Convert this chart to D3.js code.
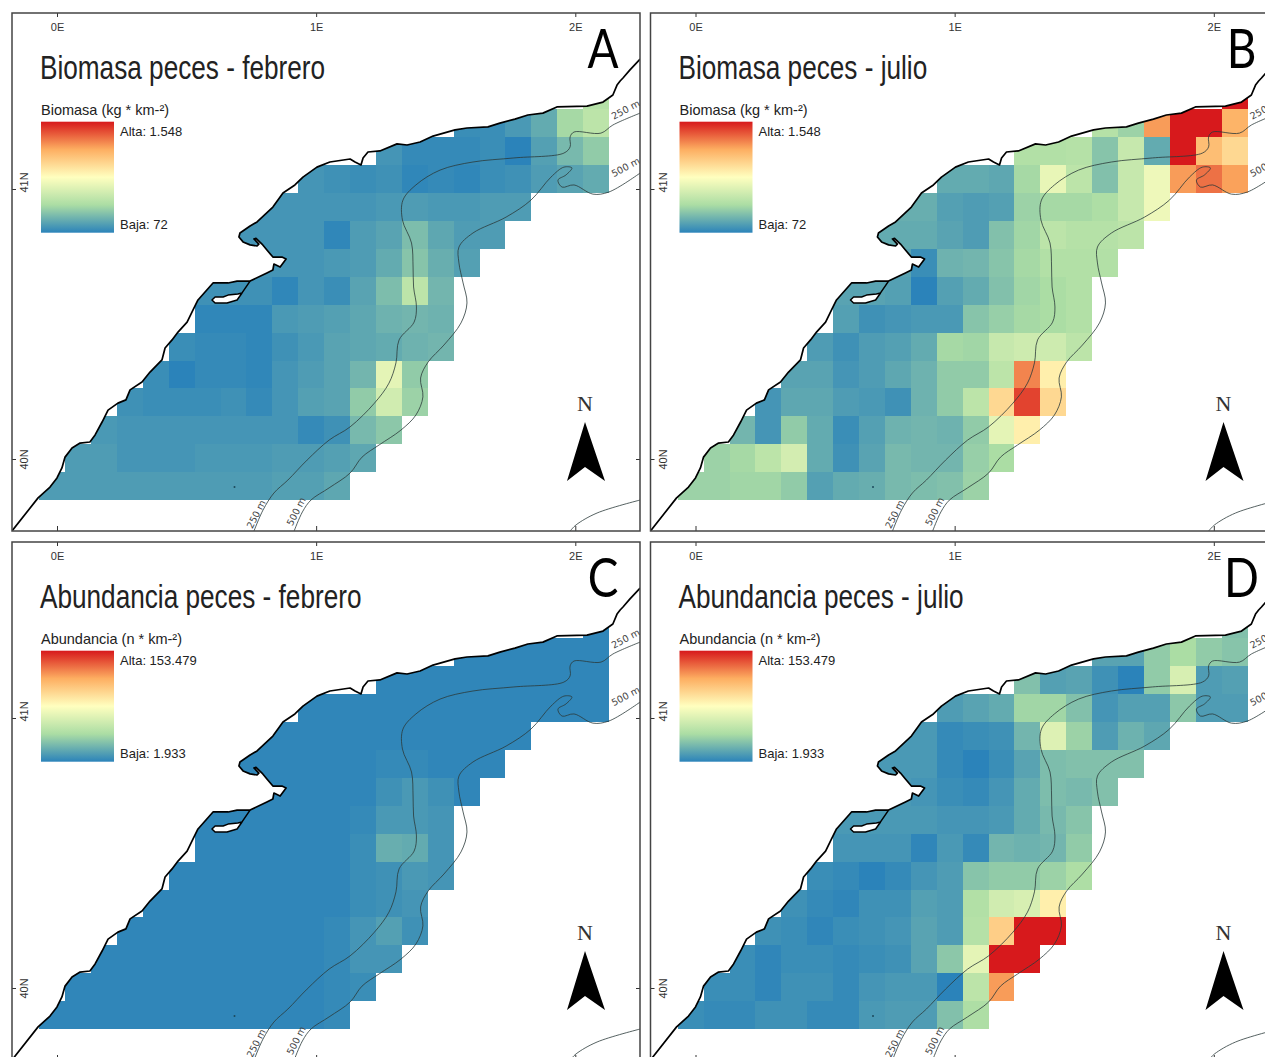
<!DOCTYPE html>
<html>
<head>
<meta charset="utf-8">
<script src="https://cdn.jsdelivr.net/npm/d3@7"></script>
<style>
    body { margin: 0; background: #fff; }
    svg { display: block; }
</style>
</head>
<body>
<div id="map"></div>
<script>
// Spectral ramp of the legend, low to high
var rampColors = ["#2b83ba", "#abdda4", "#ffffbf", "#fdae61", "#d7191c"];

// First grid column of each row, from north to south
var rowFirstCol = [21, 16, 13, 10, 8, 7, 8, 6, 6, 5, 4, 3, 2, 1, 0];

// Biomass per cell (kg/km2), february
var biomassFeb = [
    [485],
    [116, 116, 161, 234, 426, 515],
    [146, 101, 101, 101, 116, 72, 190, 293, 367],
    [146, 131, 116, 131, 87, 101, 87, 116, 131, 175, 205, 234],
    [146, 146, 146, 146, 146, 161, 175, 161, 161, 175, 175],
    [146, 146, 146, 146, 87, 175, 205, 308, 220, 175, 175],
    [146, 146, 146, 161, 175, 234, 338, 249, 190],
    [131, 131, 131, 87, 146, 116, 205, 308, 515, 279],
    [87, 87, 87, 161, 175, 190, 220, 264, 279, 264],
    [116, 101, 101, 87, 131, 161, 205, 220, 234, 264, 279],
    [116, 72, 101, 101, 87, 146, 175, 205, 279, 692, 367],
    [131, 116, 116, 116, 131, 101, 146, 190, 205, 367, 603, 397],
    [161, 146, 146, 146, 146, 146, 146, 146, 101, 131, 293, 352],
    [175, 175, 146, 146, 146, 161, 161, 161, 175, 175, 190, 220],
    [175, 175, 175, 175, 175, 175, 175, 175, 175, 190, 190, 220]
];

// Biomass per cell (kg/km2), july
var biomassJul = [
    [1548],
    [485, 397, 1223, 1548, 1548, 1150],
    [470, 470, 485, 338, 559, 234, 1548, 1105, 987],
    [234, 234, 220, 426, 707, 515, 323, 559, 736, 1223, 1330, 1209],
    [249, 249, 190, 175, 190, 397, 426, 426, 456, 559, 736],
    [234, 234, 234, 205, 175, 323, 411, 515, 485, 485, 515],
    [205, 116, 264, 279, 338, 426, 470, 470, 470],
    [205, 205, 190, 72, 190, 234, 323, 411, 441, 470],
    [190, 131, 146, 161, 161, 338, 382, 426, 441, 470],
    [175, 131, 175, 190, 234, 426, 411, 559, 589, 589, 515],
    [205, 205, 146, 175, 220, 264, 367, 367, 515, 1282, 884],
    [146, 220, 220, 175, 161, 131, 264, 367, 515, 987, 1445, 987],
    [279, 146, 367, 234, 116, 190, 264, 279, 264, 367, 692, 884],
    [397, 426, 515, 618, 234, 131, 205, 293, 279, 279, 382, 441],
    [397, 397, 411, 411, 367, 190, 234, 249, 293, 308, 323, 397]
];

// Abundance per cell (n/km2), february
var abundanceFeb = [
    [3400],
    [3400, 3400, 3400, 3400, 3400, 3400],
    [3400, 3400, 3400, 3400, 3400, 3400, 3400, 3400, 3400],
    [3400, 3400, 3400, 3400, 3400, 3400, 3400, 3400, 3400, 3400, 3400, 3400],
    [3400, 3400, 3400, 3400, 3400, 3400, 3400, 3400, 3400, 3400, 3400],
    [3400, 3400, 3400, 3400, 3400, 3400, 5000, 5000, 3400, 3400, 3400],
    [3400, 3400, 3400, 3400, 3400, 8000, 11000, 8000, 3400],
    [3400, 3400, 3400, 3400, 3400, 3400, 5000, 11000, 11000, 9500],
    [3400, 3400, 3400, 3400, 3400, 3400, 6500, 20100, 18600, 9500],
    [3400, 3400, 3400, 3400, 3400, 3400, 3400, 6500, 8000, 11000, 9500],
    [3400, 3400, 3400, 3400, 3400, 3400, 3400, 3400, 6500, 8000, 9500],
    [3400, 3400, 3400, 3400, 3400, 3400, 3400, 3400, 5000, 9500, 14100, 8000],
    [3400, 3400, 3400, 3400, 3400, 3400, 3400, 3400, 3400, 5000, 9500, 9500],
    [3400, 3400, 3400, 3400, 3400, 3400, 3400, 3400, 3400, 3400, 5000, 6500],
    [3400, 3400, 3400, 3400, 3400, 3400, 3400, 3400, 3400, 3400, 3400, 5000]
];

// Abundance per cell (n/km2), july
var abundanceJul = [
    [27700],
    [15600, 15600, 32200, 39800, 32200, 29200],
    [27700, 14100, 15600, 8000, 1900, 32200, 59500, 12500, 14100],
    [12500, 15600, 18600, 36800, 36800, 27700, 9500, 14100, 14100, 30700, 12500, 12500],
    [11000, 11000, 5000, 6500, 8000, 23100, 62500, 35300, 12500, 21600, 17100],
    [11000, 11000, 11000, 5000, 1900, 6500, 15600, 26200, 27700, 27700, 27700],
    [11000, 9500, 6500, 5000, 9500, 18600, 26200, 24700, 27700],
    [11000, 11000, 11000, 11000, 9500, 9500, 11000, 18600, 24700, 29200],
    [9500, 9500, 9500, 3400, 11000, 5000, 23100, 21600, 23100, 32200],
    [6500, 5000, 1900, 5000, 9500, 12500, 29200, 32200, 32200, 35300, 41300],
    [8000, 5000, 3400, 8000, 8000, 14100, 12500, 42800, 56500, 59500, 85300],
    [8000, 6500, 3400, 6500, 8000, 9500, 15600, 12500, 44400, 100400, 153479, 153479],
    [6500, 3400, 6500, 6500, 5000, 6500, 8000, 15600, 30700, 65600, 153479, 153479],
    [6500, 6500, 3400, 8000, 8000, 5000, 9500, 11000, 11000, 1900, 47400, 120100],
    [6500, 5000, 5000, 8000, 8000, 5000, 5000, 11000, 12500, 12500, 27700, 41300]
];

// Coast line as [lon, lat], from the east side down to the south west
var coastLine = [
    [2.250, 41.481], [2.211, 41.441], [2.184, 41.411], [2.173, 41.400], [2.161, 41.385],
    [2.145, 41.348], [2.107, 41.322], [2.045, 41.307], [1.929, 41.304], [1.875, 41.281],
    [1.817, 41.274], [1.767, 41.259], [1.709, 41.244], [1.663, 41.230], [1.582, 41.226],
    [1.536, 41.219], [1.451, 41.196], [1.401, 41.174], [1.351, 41.163], [1.312, 41.167],
    [1.246, 41.141], [1.200, 41.137], [1.181, 41.115], [1.173, 41.089], [1.150, 41.100],
    [1.131, 41.111], [1.053, 41.100], [1.003, 41.081], [0.949, 41.044], [0.918, 41.015],
    [0.872, 40.985], [0.833, 40.933], [0.772, 40.878], [0.745, 40.863], [0.706, 40.837],
    [0.702, 40.822], [0.718, 40.804], [0.745, 40.793], [0.772, 40.789], [0.779, 40.796],
    [0.760, 40.815], [0.768, 40.817], [0.791, 40.796], [0.810, 40.774], [0.833, 40.748],
    [0.868, 40.748], [0.884, 40.741], [0.861, 40.711], [0.837, 40.722], [0.833, 40.700],
    [0.810, 40.689], [0.745, 40.659], [0.695, 40.659], [0.660, 40.652], [0.602, 40.652],
    [0.544, 40.589], [0.525, 40.552], [0.502, 40.507], [0.467, 40.470], [0.444, 40.441],
    [0.417, 40.411], [0.405, 40.367], [0.359, 40.322], [0.328, 40.285], [0.282, 40.256],
    [0.266, 40.219], [0.235, 40.207], [0.197, 40.181], [0.174, 40.137], [0.147, 40.089],
    [0.127, 40.063], [0.089, 40.059], [0.058, 40.041], [0.031, 40.007], [0.019, 39.967],
    [0.000, 39.930], [-0.027, 39.896], [-0.073, 39.856], [-0.174, 39.733]
];
var seaCorner = [2.250, 39.733];

// Lagoon behind the spit
var lagoonLine = [
    [0.745, 40.659], [0.714, 40.615], [0.698, 40.611], [0.660, 40.607], [0.641, 40.600],
    [0.610, 40.600], [0.598, 40.589], [0.610, 40.578], [0.656, 40.578], [0.695, 40.589],
    [0.714, 40.615]
];
var islet = [0.685, 39.896];

// Isobaths
var isobath250 = [
    [0.760, 39.733], [0.795, 39.811], [0.837, 39.874], [0.891, 39.922], [0.965, 39.996],
    [1.050, 40.070], [1.131, 40.119], [1.225, 40.207], [1.281, 40.281], [1.308, 40.356],
    [1.320, 40.441], [1.378, 40.507], [1.387, 40.563], [1.376, 40.637], [1.374, 40.711],
    [1.368, 40.800], [1.333, 40.885], [1.335, 40.959], [1.385, 41.015], [1.478, 41.070],
    [1.605, 41.100], [1.763, 41.115], [1.956, 41.133], [1.980, 41.156], [1.980, 41.193],
    [1.995, 41.211], [2.099, 41.207], [2.145, 41.237], [2.250, 41.281]
];
var isobath500 = [
    [0.915, 39.733], [0.947, 39.804], [0.980, 39.848], [1.050, 39.893], [1.131, 39.948],
    [1.177, 40.007], [1.243, 40.052], [1.327, 40.107], [1.385, 40.163], [1.412, 40.230],
    [1.403, 40.300], [1.432, 40.359], [1.493, 40.422], [1.559, 40.504], [1.582, 40.578],
    [1.567, 40.652], [1.551, 40.726], [1.551, 40.785], [1.605, 40.837], [1.733, 40.896],
    [1.829, 40.959], [1.906, 41.044], [1.956, 41.081], [1.987, 41.078], [1.964, 41.052],
    [1.933, 41.033], [1.949, 41.007], [1.995, 41.015], [2.068, 40.981], [2.130, 40.989],
    [2.250, 41.059]
];
var isobathDeep = [[1.980, 39.733], [2.003, 39.756], [2.084, 39.800], [2.250, 39.848]];

var lonTicks = [0, 1, 2];
var latTicks = [40, 41];

var panelNames = ["A", "B", "C", "D"];
var panelTitles = ["Biomasa peces - febrero", "Biomasa peces - julio", "Abundancia peces - febrero", "Abundancia peces - julio"];
var panelValues = [biomassFeb, biomassJul, abundanceFeb, abundanceJul];
var legendTitles = ["Biomasa (kg * km-²)", "Biomasa (kg * km-²)", "Abundancia (n * km-²)", "Abundancia (n * km-²)"];
var legendHigh = ["Alta: 1.548", "Alta: 1.548", "Alta: 153.479", "Alta: 153.479"];
var legendLow = ["Baja: 72", "Baja: 72", "Baja: 1.933", "Baja: 1.933"];
var legendDomains = [[72, 1548], [72, 1548], [1933, 153479], [1933, 153479]];

// Define SVG area dimensions
var svgWidth = 1265;
var svgHeight = 1057;

// One panel frame, the other panels are the same map shifted
var frame = { left: 12, top: 13, right: 640, bottom: 531 };
var panelShift = { x: 638.5, y: 529 };

var labelFont = "'Liberation Sans', sans-serif";

var svg = d3.select("#map")
    .append("svg")
    .attr("width", svgWidth)
    .attr("height", svgHeight);

// scales shared by all the panels
var lonScale = d3.scaleLinear().domain([0, 2]).range([57, 575.3]);
var latScale = d3.scaleLinear().domain([40, 41]).range([459, 189]);
var colScale = d3.scaleLinear().domain([0, 22]).range([39.2, 609]);
var rowScale = d3.scaleLinear().domain([0, 15]).range([81.5, 500]);

var mapLine = d3.line()
    .x(d => lonScale(d[0]))
    .y(d => latScale(d[1]));

var smoothLine = d3.line()
    .x(d => lonScale(d[0]))
    .y(d => latScale(d[1]))
    .curve(d3.curveCatmullRom.alpha(0.5));

var defs = svg.append("defs");

// cells only show on the sea side of the coast
defs.append("clipPath")
    .attr("id", "sea")
    .append("path")
    .attr("d", mapLine(coastLine.concat([seaCorner])) + "Z");

defs.append("clipPath")
    .attr("id", "frame")
    .append("rect")
    .attr("x", frame.left)
    .attr("y", frame.top)
    .attr("width", frame.right - frame.left)
    .attr("height", frame.bottom - frame.top);

var ramp = defs.append("linearGradient")
    .attr("id", "ramp")
    .attr("x1", 0).attr("y1", 1)
    .attr("x2", 0).attr("y2", 0);

ramp.selectAll("stop")
    .data(rampColors)
    .enter()
    .append("stop")
    .attr("offset", (d, i) => i / (rampColors.length - 1))
    .attr("stop-color", d => d);

panelNames.forEach(function (name, p) {
    var panel = svg.append("g")
        .attr("transform", `translate(${(p % 2) * panelShift.x}, ${(p > 1 ? 1 : 0) * panelShift.y})`);

    var inner = panel.append("g").attr("clip-path", "url(#frame)");

    drawCells(inner, panelValues[p], legendDomains[p]);
    drawContours(inner);
    drawCoast(inner);
    drawAxes(panel);

    // title and panel letter, both squeezed since there is no narrow font
    panel.append("text")
        .attr("transform", "translate(40, 79) scale(0.77, 1)")
        .attr("font-family", labelFont)
        .attr("font-size", 34)
        .attr("fill", "#222")
        .text(panelTitles[p]);

    panel.append("text")
        .attr("transform", "translate(603, 68) scale(0.85, 1)")
        .attr("text-anchor", "middle")
        .attr("font-family", "Lato, sans-serif")
        .attr("font-size", 54)
        .attr("fill", "#000")
        .text(name);

    drawLegend(panel, p);
    drawNorth(panel);

    // frame goes on top of everything
    panel.append("rect")
        .attr("x", frame.left)
        .attr("y", frame.top)
        .attr("width", frame.right - frame.left)
        .attr("height", frame.bottom - frame.top)
        .attr("fill", "none")
        .attr("stroke", "#444")
        .attr("stroke-width", 1.5);
});

function drawCells(group, values, domain) {
    // same five stops as the legend, stretched on the domain of the panel
    var stops = rampColors.map((c, i) => domain[0] + (domain[1] - domain[0]) * i / (rampColors.length - 1));
    var colorScale = d3.scaleLinear().domain(stops).range(rampColors);

    var cells = [];
    values.forEach(function (row, r) {
        row.forEach(function (v, i) {
            cells.push({ row: r, col: rowFirstCol[r] + i, value: v });
        });
    });

    group.append("g")
        .attr("clip-path", "url(#sea)")
        .attr("shape-rendering", "crispEdges")
        .selectAll("rect")
        .data(cells)
        .enter()
        .append("rect")
        .attr("x", d => colScale(d.col))
        .attr("y", d => rowScale(d.row))
        .attr("width", d => colScale(d.col + 1) - colScale(d.col))
        .attr("height", d => rowScale(d.row + 1) - rowScale(d.row))
        .attr("fill", d => colorScale(d.value));
}

function drawContours(group) {
    [isobath250, isobath500, isobathDeep].forEach(function (line) {
        group.append("path")
            .attr("d", smoothLine(line))
            .attr("fill", "none")
            .attr("stroke", "#2b3a3a")
            .attr("stroke-width", 0.8);
    });

    // depth labels along the lines
    var labels = [
        { text: "250 m", lon: 0.780, lat: 39.790, angle: -63 },
        { text: "500 m", lon: 0.934, lat: 39.800, angle: -63 },
        { text: "250 m", lon: 2.200, lat: 41.283, angle: -28 },
        { text: "500 m", lon: 2.200, lat: 41.070, angle: -28 }
    ];
    group.selectAll("text.depth")
        .data(labels)
        .enter()
        .append("text")
        .attr("class", "depth")
        .attr("transform", d => `translate(${lonScale(d.lon)}, ${latScale(d.lat)}) rotate(${d.angle})`)
        .attr("text-anchor", "middle")
        .attr("font-family", "'DejaVu Sans', sans-serif")
        .attr("font-size", 9.5)
        .attr("fill", "#444")
        .text(d => d.text);
}

function drawCoast(group) {
    group.append("path")
        .attr("d", mapLine(coastLine))
        .attr("fill", "none")
        .attr("stroke", "#000")
        .attr("stroke-width", 1.7)
        .attr("stroke-linejoin", "round");

    group.append("path")
        .attr("d", mapLine(lagoonLine))
        .attr("fill", "#fff")
        .attr("stroke", "#000")
        .attr("stroke-width", 1.5)
        .attr("stroke-linejoin", "round");

    group.append("circle")
        .attr("cx", lonScale(islet[0]))
        .attr("cy", latScale(islet[1]))
        .attr("r", 1)
        .attr("fill", "#1d4a5c");
}

function drawAxes(panel) {
    // longitude ticks, top with labels and bottom without
    var topAxis = panel.append("g")
        .attr("transform", `translate(0, ${frame.top})`)
        .call(d3.axisTop(lonScale).tickValues(lonTicks).tickFormat(d => d + "E").tickSize(-4));
    topAxis.selectAll("text").attr("y", 18).attr("dy", 0);

    var bottomAxis = panel.append("g")
        .attr("transform", `translate(0, ${frame.bottom})`)
        .call(d3.axisBottom(lonScale).tickValues(lonTicks).tickFormat("").tickSize(-5));

    // latitude ticks, labels turned along the left side
    var leftAxis = panel.append("g")
        .attr("transform", `translate(${frame.left}, 0)`)
        .call(d3.axisLeft(latScale).tickValues(latTicks).tickFormat(d => d + "N").tickSize(-4));
    leftAxis.selectAll("text")
        .attr("x", 0).attr("dy", 0)
        .attr("text-anchor", "middle")
        .attr("transform", d => `translate(16, ${d === 41 ? -7 : 0}) rotate(-90)`);

    var rightAxis = panel.append("g")
        .attr("transform", `translate(${frame.right}, 0)`)
        .call(d3.axisRight(latScale).tickValues(latTicks).tickFormat("").tickSize(-4));

    [topAxis, bottomAxis, leftAxis, rightAxis].forEach(function (axis) {
        axis.select(".domain").remove();
        axis.selectAll("line").attr("stroke", "#333");
        axis.selectAll("text")
            .attr("font-family", labelFont)
            .attr("font-size", 11)
            .attr("fill", "#333");
    });
}

function drawLegend(panel, p) {
    panel.append("text")
        .attr("x", 41)
        .attr("y", 115)
        .attr("font-family", labelFont)
        .attr("font-size", 14.5)
        .attr("fill", "#222")
        .text(legendTitles[p]);

    panel.append("rect")
        .attr("x", 41)
        .attr("y", 121.7)
        .attr("width", 73)
        .attr("height", 111)
        .attr("fill", "url(#ramp)");

    panel.append("text")
        .attr("x", 120)
        .attr("y", 136)
        .attr("font-family", labelFont)
        .attr("font-size", 13)
        .attr("fill", "#222")
        .text(legendHigh[p]);

    panel.append("text")
        .attr("x", 120)
        .attr("y", 229)
        .attr("font-family", labelFont)
        .attr("font-size", 13)
        .attr("fill", "#222")
        .text(legendLow[p]);
}

function drawNorth(panel) {
    panel.append("text")
        .attr("x", 585)
        .attr("y", 411)
        .attr("text-anchor", "middle")
        .attr("font-family", "'Liberation Serif', serif")
        .attr("font-size", 22)
        .attr("fill", "#333")
        .text("N");

    panel.append("path")
        .attr("d", "M585,422L605,481L585,467L567,481Z")
        .attr("fill", "#000");
}
</script>
</body>
</html>
